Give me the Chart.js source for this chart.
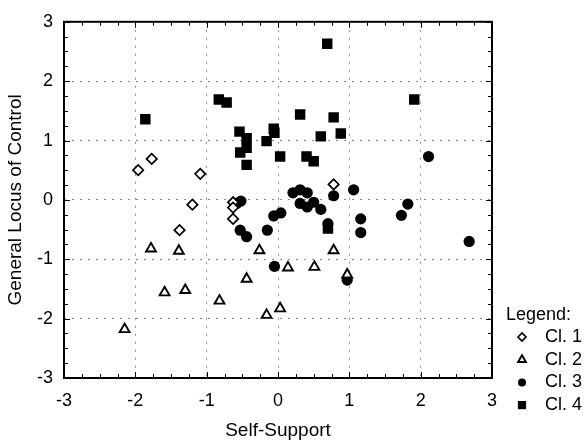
<!DOCTYPE html>
<html>
<head>
<meta charset="utf-8">
<script src="https://cdn.jsdelivr.net/npm/chart.js@4.4.1/dist/chart.umd.min.js"></script>
<style>
  html, body { margin: 0; padding: 0; background: #fff; }
</style>
</head>
<body>
<canvas id="chart" width="587" height="443"></canvas>
<script>
// Cl. 1 - open diamonds
const cl1X = [-1.96, -1.77, -1.09, -1.20, -1.38, -0.63, -0.63, -0.63, 0.78];
const cl1Y = [0.50, 0.69, 0.44, -0.08, -0.51, -0.04, -0.13, -0.32, 0.26];

// Cl. 2 - open triangles
const cl2X = [-2.15, -1.78, -1.39, -1.59, -1.30, -0.82, -0.44, -0.26, -0.16, 0.03, 0.14, 0.51, 0.78, 0.97];
const cl2Y = [-2.18, -0.82, -0.86, -1.56, -1.52, -1.70, -1.33, -0.85, -1.94, -1.83, -1.14, -1.13, -0.85, -1.26];

// Cl. 3 - filled circles
const cl3X = [-0.58, -0.52, -0.53, -0.44, -0.15, -0.06, 0.04, 0.21, 0.31, 0.41, 0.31, 0.41, 0.50,
  0.60, 0.78, 1.06, 0.70, -0.05, 0.97, 2.11, 1.82, 1.73, 1.16, 1.16, 2.68];
const cl3Y = [-0.06, -0.02, -0.51, -0.62, -0.51, -0.27, -0.22, 0.12, 0.17, 0.12, -0.06, -0.12, -0.04,
  -0.16, 0.07, 0.17, -0.40, -1.12, -1.35, 0.73, -0.07, -0.26, -0.32, -0.55, -0.70];

// Cl. 4 - filled squares
const cl4X = [-1.86, -0.83, -0.72, -0.54, -0.44, -0.53, -0.44, -0.44, -0.16, -0.06, -0.05, 0.03,
  0.31, 0.40, 0.50, 0.60, 0.69, 0.78, 0.88, 1.91, 0.70];
const cl4Y = [1.36, 1.69, 1.64, 1.15, 1.04, 0.80, 0.88, 0.59, 0.99, 1.20, 1.13, 0.73,
  1.44, 0.73, 0.65, 1.07, 2.63, 1.39, 1.12, 1.69, -0.48];

const classNames = ['Cl. 1', 'Cl. 2', 'Cl. 3', 'Cl. 4'];
const axisMin = -3;
const axisMax = 3;

const toPoints = (X, Y) => X.map((x, i) => ({ x, y: Y[i] }));

const FONT = "'Liberation Sans', Arial, sans-serif";
Chart.defaults.font.family = FONT;
Chart.defaults.color = '#000';

const gridColor = (c) => {
  const v = c.tick && c.tick.value;
  return Number.isInteger(v) && Math.abs(v) < 3 ? 'rgba(0,0,0,0.45)' : 'rgba(0,0,0,0)';
};
const intLabel = (v) => (Number.isInteger(v) ? v : '');

// frame + inward minor ticks on all four sides
const framePlugin = {
  id: 'frame',
  beforeDatasetsDraw(chart) {
    const { ctx, chartArea: a, scales: { x, y } } = chart;
    ctx.save();
    ctx.strokeStyle = '#000';
    ctx.lineWidth = 1;
    ctx.beginPath();
    for (let k = 0; k <= 24; k++) {
      const v = axisMin + k * 0.25;
      const len = Number.isInteger(v) ? 6 : 4;
      const px = Math.round(x.getPixelForValue(v)) + 0.5;
      ctx.moveTo(px, a.bottom); ctx.lineTo(px, a.bottom - len);
      ctx.moveTo(px, a.top); ctx.lineTo(px, a.top + len);
      const py = Math.round(y.getPixelForValue(v)) + 0.5;
      ctx.moveTo(a.left, py); ctx.lineTo(a.left + len, py);
      ctx.moveTo(a.right, py); ctx.lineTo(a.right - len, py);
    }
    ctx.stroke();
    ctx.lineWidth = 2;
    ctx.strokeRect(a.left, a.top, a.right - a.left, a.bottom - a.top);
    ctx.restore();
  },
  afterDraw(chart) {
    const { ctx, chartArea: a } = chart;
    const lx = a.right + 14;
    ctx.save();
    ctx.font = '18px ' + FONT;
    ctx.fillStyle = '#000';
    ctx.textBaseline = 'middle';
    ctx.fillText('Legend:', lx, 315);
    chart.data.datasets.forEach((ds, i) => {
      const cy = 337 + i * 22.7;
      ctx.fillStyle = ds.backgroundColor;
      ctx.strokeStyle = ds.borderColor;
      ctx.lineWidth = ds.borderWidth;
      Chart.helpers.drawPoint(ctx, {
        pointStyle: ds.pointStyle,
        radius: ds.legendRadius,
        borderWidth: ds.borderWidth,
        rotation: 0,
      }, lx + 16, cy);
      ctx.fillStyle = '#000';
      ctx.fillText(ds.label, lx + 39, cy);
    });
    ctx.restore();
  },
};

const ctx = document.getElementById('chart').getContext('2d');
const chart = new Chart(ctx, {
  type: 'scatter',
  data: {
    datasets: [
      {
        label: classNames[0],
        data: toPoints(cl1X, cl1Y),
        pointStyle: 'rectRot',
        pointRadius: 5.2,
        legendRadius: 4,
        backgroundColor: '#fff',
        borderColor: '#000',
        borderWidth: 1.7,
      },
      {
        label: classNames[1],
        data: toPoints(cl2X, cl2Y),
        pointStyle: 'triangle',
        pointRadius: 5.7,
        legendRadius: 4.5,
        backgroundColor: '#fff',
        borderColor: '#000',
        borderWidth: 1.9,
      },
      {
        label: classNames[2],
        data: toPoints(cl3X, cl3Y),
        pointStyle: 'circle',
        pointRadius: 5.6,
        legendRadius: 4,
        backgroundColor: '#000',
        borderColor: '#000',
        borderWidth: 0,
      },
      {
        label: classNames[3],
        data: toPoints(cl4X, cl4Y),
        pointStyle: 'rect',
        pointRadius: 7.4,
        legendRadius: 5.8,
        backgroundColor: '#000',
        borderColor: '#000',
        borderWidth: 0,
      },
    ],
  },
  options: {
    responsive: false,
    animation: false,
    layout: { padding: { top: 14, right: 95, left: 0, bottom: 0 } },
    plugins: {
      legend: { display: false },
      tooltip: { enabled: false },
    },
    scales: {
      x: {
        type: 'linear',
        min: axisMin,
        max: axisMax,
        afterFit: (scale) => { scale.height = 65; },
        ticks: {
          stepSize: 0.25,
          autoSkip: false,
          maxRotation: 0,
          padding: 12,
          font: { size: 18 },
          callback: intLabel,
        },
        grid: { color: gridColor, drawTicks: false, lineWidth: 1 },
        border: { display: false, dash: [2, 6] },
        title: {
          display: true,
          text: 'Self-Support',
          font: { size: 19 },
          padding: { top: 0, bottom: 1 },
        },
      },
      y: {
        type: 'linear',
        min: axisMin,
        max: axisMax,
        afterFit: (scale) => { scale.width = 64; },
        ticks: {
          stepSize: 0.25,
          autoSkip: false,
          padding: 11,
          font: { size: 18 },
          callback: intLabel,
        },
        grid: { color: gridColor, drawTicks: false, lineWidth: 1 },
        border: { display: false, dash: [2, 6] },
        title: {
          display: true,
          text: 'General Locus of Control',
          font: { size: 19 },
          padding: { top: 4, bottom: 0 },
        },
      },
    },
  },
  plugins: [framePlugin],
});
</script>
</body>
</html>
